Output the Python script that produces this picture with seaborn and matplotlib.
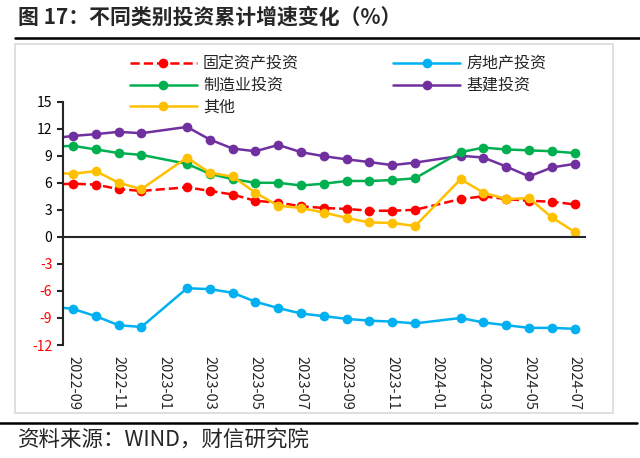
import pandas as pd
import seaborn as sns
import matplotlib.pyplot as plt
from matplotlib.patches import Rectangle
from matplotlib.lines import Line2D

# Dane: skumulowane tempo wzrostu inwestycji (%)
months = ['2022-08', '2022-09', '2022-10', '2022-11', '2022-12',
          '2023-02', '2023-03', '2023-04', '2023-05', '2023-06', '2023-07',
          '2023-08', '2023-09', '2023-10', '2023-11', '2023-12',
          '2024-02', '2024-03', '2024-04', '2024-05', '2024-06', '2024-07']
fai = [5.8, 5.9, 5.8, 5.3, 5.1, 5.5, 5.1, 4.7, 4.0, 3.8, 3.4,
       3.2, 3.1, 2.9, 2.9, 3.0, 4.2, 4.5, 4.2, 4.0, 3.9, 3.6]
manufacturing = [10.0, 10.1, 9.7, 9.3, 9.1, 8.1, 7.0, 6.4, 6.0, 6.0, 5.7,
                 5.9, 6.2, 6.2, 6.3, 6.5, 9.4, 9.9, 9.7, 9.6, 9.5, 9.3]
other = [7.1, 7.0, 7.3, 6.0, 5.3, 8.8, 7.1, 6.7, 4.9, 3.45, 3.2,
         2.7, 2.1, 1.6, 1.55, 1.2, 6.4, 4.9, 4.2, 4.3, 2.15, 0.55]
real_estate = [-7.7, -8.0, -8.8, -9.8, -10.0, -5.7, -5.8, -6.2, -7.2, -7.9, -8.5,
               -8.8, -9.1, -9.3, -9.4, -9.6, -9.0, -9.5, -9.8, -10.1, -10.1, -10.2]
infrastructure = [10.9, 11.2, 11.4, 11.65, 11.5, 12.2, 10.8, 9.8, 9.5, 10.2, 9.4,
                  8.95, 8.6, 8.3, 7.96, 8.24, 9.0, 8.8, 7.8, 6.7, 7.7, 8.1]

tick_labels = ['2022-09', '2022-11', '2023-01', '2023-03', '2023-05', '2023-07',
               '2023-09', '2023-11', '2024-01', '2024-03', '2024-05', '2024-07']
y_ticks = [-12, -9, -6, -3, 0, 3, 6, 9, 12, 15]

def month_idx(m):
    y, mo = m.split('-')
    return (int(y) - 2022) * 12 + int(mo) - 9

x = [month_idx(m) for m in months]

sns.set_style('white')
plt.rcParams['font.family'] = ['Noto Sans CJK SC', 'DejaVu Sans']

fig = plt.figure(figsize=(6.4, 4.58), dpi=100)
ax = fig.add_axes([0.098, 0.2467, 0.816, 0.5313])

series = [
    ('固定资产投资', fai, '#FF0000', '--'),
    ('制造业投资', manufacturing, '#00B050', '-'),
    ('其他', other, '#FFC000', '-'),
    ('房地产投资', real_estate, '#00B0F0', '-'),
    ('基建投资', infrastructure, '#7030A0', '-'),
]
draw_order = [3, 4, 1, 0, 2]
for i in draw_order:
    name, vals, col, ls = series[i]
    sns.lineplot(x=x, y=vals, ax=ax, color=col, linestyle=ls, linewidth=1.8,
                 marker='o', markersize=7, markeredgewidth=0, legend=False)

ax.set_xlim(-0.45, 22.45)
ax.set_ylim(-12, 15)
ax.set_yticks(y_ticks)
ax.set_yticklabels([str(v) for v in y_ticks], fontsize=10)
for t, v in zip(ax.get_yticklabels(), y_ticks):
    t.set_color('#FF0000' if v < 0 else 'black')

ax.spines['top'].set_visible(False)
ax.spines['right'].set_visible(False)
ax.spines['left'].set_linewidth(1.5)
ax.spines['bottom'].set_linewidth(1.5)
ax.spines['bottom'].set_position(('data', 0))
ax.set_xticks([])
ax.set_xticks([1.5 + 2 * k for k in range(11)], minor=True)
ax.tick_params(axis='x', which='minor', direction='out', length=4, width=1.5, labelbottom=False)
ax.tick_params(axis='y', direction='out', length=4, width=1.5, left=True)

sec = ax.secondary_xaxis('bottom')
sec.set_xticks(list(range(0, 23, 2)))
sec.set_xticklabels(tick_labels, rotation=270, fontsize=10.5)
sec.tick_params(length=0, pad=8)
sec.spines['bottom'].set_visible(False)

handles = [Line2D([], [], color=c, linestyle=ls, linewidth=1.8, marker='o',
                  markersize=7, markeredgewidth=0) for _, _, c, ls in series]
labels = [s[0] for s in series]
fig.legend(handles, labels, ncol=2, loc='upper left', bbox_to_anchor=(0.19, 0.896),
           frameon=False, fontsize=11.5, handlelength=4.2, handletextpad=0.4,
           columnspacing=5.9, labelspacing=0.28, borderpad=0)

fig.patches.append(Rectangle((0.023, 0.099), 0.935, 0.806, transform=fig.transFigure,
                             fill=False, edgecolor='#D9D9D9', linewidth=1.2))
fig.add_artist(Line2D([0.023, 1.0], [0.918, 0.918], transform=fig.transFigure,
                      color='black', linewidth=1.8))
fig.add_artist(Line2D([0.0, 0.995], [0.077, 0.077], transform=fig.transFigure,
                      color='black', linewidth=1.8))

fig.text(0.028, 0.963, '图 17：不同类别投资累计增速变化（%）', fontsize=15,
         fontweight='bold', va='center', ha='left')
fig.text(0.028, 0.039, '资料来源：WIND，财信研究院', fontsize=15.5,
         style='italic', va='center', ha='left')

fig.savefig('out.png', dpi=100)
